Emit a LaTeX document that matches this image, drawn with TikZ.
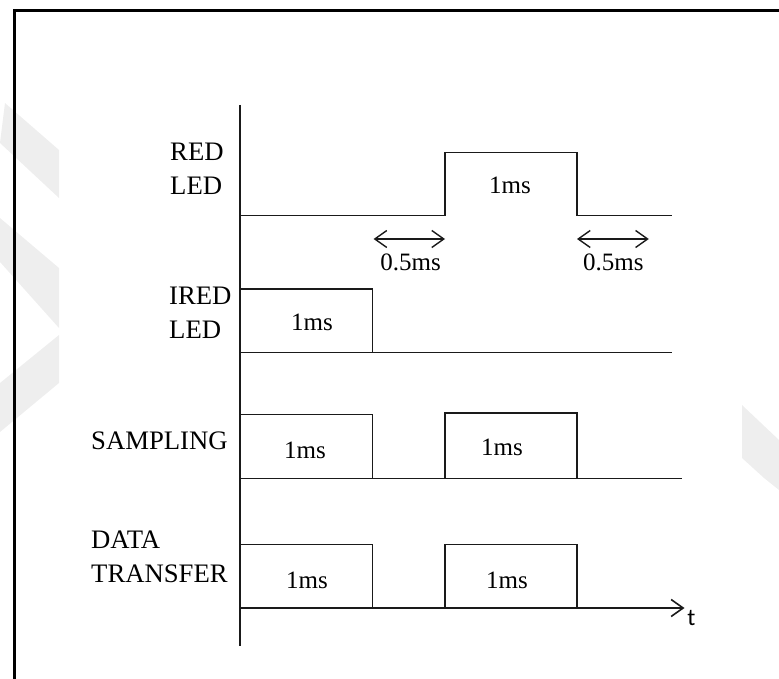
\documentclass[tikz,border=0pt]{standalone}
\usepackage{fontspec}
\setmainfont{Liberation Serif}
\newfontfamily\axisfont{Carlito}
\usetikzlibrary{arrows.meta}
\definecolor{markgrey}{HTML}{EEEEEE}
\definecolor{inkblack}{HTML}{1A1A1A}

\begin{document}
\begin{tikzpicture}[x=1pt,y=-1pt,
    sig/.style={inkblack,line width=1.6pt,line join=miter},
    chan/.style={font=\fontsize{26.7}{33.8}\selectfont,align=left,anchor=west,inner sep=0pt},
    dur/.style={font=\fontsize{25}{30}\selectfont,inner sep=0pt},
    gap/.style={inkblack,line width=1.4pt,{Straight Barb[length=12pt,width=17pt]}-{Straight Barb[length=12pt,width=17pt]}}]
    \useasboundingbox (0,0) rectangle (779,679);
    % faint watermark
    \begin{scope}
      \clip (0,95) rectangle (59,450);
      \fill[markgrey] (5,103)--(59,150)--(59,198)--(0,143)--cycle;
      \fill[markgrey] (0,218)--(59,268)--(59,328)--(0,262)--cycle;
      \fill[markgrey] (59,335)--(59,383)--(0,432)--(0,383)--cycle;
    \end{scope}
    \fill[markgrey] (742,405)--(779,440)--(779,490)--(764,478)--(742,458)--cycle;
    % frame
    \draw[line width=3pt] (14,690)--(14,11)--(790,11);
    % time axis
    \coordinate (top) at (240,105);
    \coordinate (bottom) at (240,646);
    \draw[inkblack,line width=2pt] (top)--(bottom);
    % RED LED
    \node[chan] (red) at (170,168.5) {RED\\LED};
    \draw[sig] (240,215.7)--(445,215.7)--(445,152.4)--(577,152.4)--(577,215.7)--(671.6,215.7);
    \node[dur] (redon) at (510,185) {1ms};
    \coordinate (g1a) at (373.6,239);
    \coordinate (g1b) at (445,239);
    \coordinate (g2a) at (577,239);
    \coordinate (g2b) at (648.8,239);
    \draw[gap] (g1a)--(g1b);
    \draw[gap] (g2a)--(g2b);
    \node[dur] (gapa) at (410.6,262.5) {0.5ms};
    \node[dur] (gapb) at (613.3,262.5) {0.5ms};
    % IRED LED
    \node[chan] (ired) at (169,312.4) {IRED\\LED};
    \draw[sig] (240,289)--(372.6,289)--(372.6,352.5)--(671.6,352.5);
    \draw[sig] (240,352.5)--(372.6,352.5);
    \node[dur] (iredon) at (312,322.6) {1ms};
    % SAMPLING
    \node[chan] (samp) at (91,441) {SAMPLING};
    \draw[sig] (240,414.5)--(372.6,414.5)--(372.6,478.6);
    \draw[sig] (240,478.6)--(681.6,478.6);
    \draw[sig] (445,478.6)--(445,413)--(577,413)--(577,478.6);
    \node[dur] (sampa) at (305,450) {1ms};
    \node[dur] (sampb) at (502,447) {1ms};
    % DATA TRANSFER
    \node[chan] (data) at (91,557) {DATA\\TRANSFER};
    \draw[sig] (240,544.4)--(372.6,544.4)--(372.6,608);
    \draw[sig] (445,608)--(445,544.4)--(577,544.4)--(577,608);
    \coordinate (tend) at (684.5,608);
    \draw[sig,-{Straight Barb[length=12pt,width=17pt]}] (240,608)--(tend);
    \node[dur] (dataa) at (307,580) {1ms};
    \node[dur] (datab) at (507,580) {1ms};
    \node[font=\axisfont\fontsize{24}{28}\selectfont,inner sep=0pt] (t) at (691.5,618) {t};
\end{tikzpicture}
\end{document}
